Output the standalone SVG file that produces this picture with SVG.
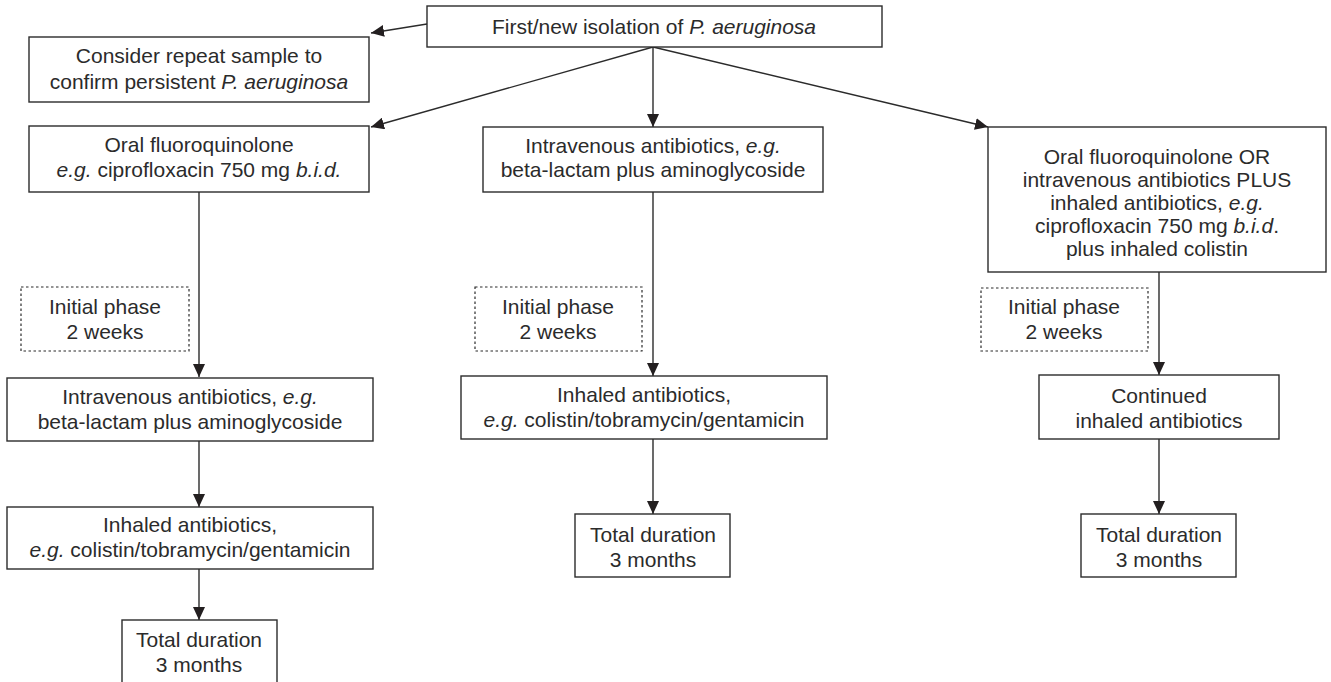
<svg xmlns="http://www.w3.org/2000/svg" width="1331" height="682" viewBox="0 0 1331 682">
<style>
.box{fill:#fff;stroke:#2b2b2b;stroke-width:1.4}
.dash{fill:#fff;stroke:#2b2b2b;stroke-width:1.2;stroke-dasharray:2.5 2.5}
.t{font-family:"Liberation Sans",Arial,sans-serif;font-size:21px;fill:#2b2b2b;text-anchor:middle}
.i{font-style:italic}
.c{fill:none;stroke:#2b2b2b;stroke-width:1.4}
</style>
<defs>
<marker id="ah" markerUnits="userSpaceOnUse" markerWidth="14" markerHeight="12" refX="13" refY="6" orient="auto">
<path d="M0,0 L13,6 L0,12 Z" fill="#231f20"/>
</marker>
</defs>
<rect width="1331" height="682" fill="#fff"/>
<g id="connectors">
<line class="c" x1="427" y1="24" x2="371" y2="33" marker-end="url(#ah)"/>
<line class="c" x1="653" y1="47" x2="371" y2="127" marker-end="url(#ah)"/>
<line class="c" x1="653" y1="47" x2="653" y2="127" marker-end="url(#ah)"/>
<line class="c" x1="653" y1="47" x2="988" y2="127" marker-end="url(#ah)"/>
<line class="c" x1="199" y1="192" x2="199" y2="377" marker-end="url(#ah)"/>
<line class="c" x1="199" y1="441" x2="199" y2="507" marker-end="url(#ah)"/>
<line class="c" x1="199" y1="569" x2="199" y2="620" marker-end="url(#ah)"/>
<line class="c" x1="653" y1="192" x2="653" y2="376" marker-end="url(#ah)"/>
<line class="c" x1="653" y1="439" x2="653" y2="514" marker-end="url(#ah)"/>
<line class="c" x1="1159" y1="272" x2="1159" y2="375" marker-end="url(#ah)"/>
<line class="c" x1="1159" y1="439" x2="1159" y2="514" marker-end="url(#ah)"/>
</g>
<g id="n-top">
<rect class="box" x="427" y="6" width="455" height="41"/>
<text class="t" x="654" y="34">First/new isolation of <tspan class="i">P. aeruginosa</tspan></text>
</g>
<g id="n-consider">
<rect class="box" x="29" y="37" width="340" height="65"/>
<text class="t" x="199" y="63">Consider repeat sample to</text>
<text class="t" x="199" y="89">confirm persistent <tspan class="i">P. aeruginosa</tspan></text>
</g>
<g id="n-oral">
<rect class="box" x="29" y="126" width="340" height="66"/>
<text class="t" x="199" y="152">Oral fluoroquinolone</text>
<text class="t" x="199" y="177"><tspan class="i">e.g.</tspan> ciprofloxacin 750 mg <tspan class="i">b.i.d.</tspan></text>
</g>
<g id="n-iv-mid">
<rect class="box" x="483" y="127" width="340" height="65"/>
<text class="t" x="653" y="153">Intravenous antibiotics, <tspan class="i">e.g.</tspan></text>
<text class="t" x="653" y="177">beta-lactam plus aminoglycoside</text>
</g>
<g id="n-combo">
<rect class="box" x="988" y="127" width="338" height="145"/>
<text class="t" x="1157" y="164">Oral fluoroquinolone OR</text>
<text class="t" x="1157" y="187">intravenous antibiotics PLUS</text>
<text class="t" x="1157" y="210">inhaled antibiotics, <tspan class="i">e.g.</tspan></text>
<text class="t" x="1157" y="233">ciprofloxacin 750 mg <tspan class="i">b.i.d</tspan>.</text>
<text class="t" x="1157" y="256">plus inhaled colistin</text>
</g>
<g id="n-phase-left">
<rect class="dash" x="21" y="287" width="168" height="64"/>
<text class="t" x="105" y="314">Initial phase</text>
<text class="t" x="105" y="339">2 weeks</text>
</g>
<g id="n-phase-mid">
<rect class="dash" x="475" y="287" width="167" height="64"/>
<text class="t" x="558" y="314">Initial phase</text>
<text class="t" x="558" y="339">2 weeks</text>
</g>
<g id="n-phase-right">
<rect class="dash" x="981" y="288" width="167" height="63"/>
<text class="t" x="1064" y="314">Initial phase</text>
<text class="t" x="1064" y="339">2 weeks</text>
</g>
<g id="n-iv-left">
<rect class="box" x="7" y="378" width="366" height="63"/>
<text class="t" x="190" y="404">Intravenous antibiotics, <tspan class="i">e.g.</tspan></text>
<text class="t" x="190" y="429">beta-lactam plus aminoglycoside</text>
</g>
<g id="n-inh-left">
<rect class="box" x="7" y="507" width="366" height="62"/>
<text class="t" x="190" y="532">Inhaled antibiotics,</text>
<text class="t" x="190" y="557"><tspan class="i">e.g.</tspan> colistin/tobramycin/gentamicin</text>
</g>
<g id="n-total-left">
<rect class="box" x="122" y="620" width="155" height="70"/>
<text class="t" x="199" y="647">Total duration</text>
<text class="t" x="199" y="672">3 months</text>
</g>
<g id="n-inh-mid">
<rect class="box" x="461" y="376" width="366" height="63"/>
<text class="t" x="644" y="402">Inhaled antibiotics,</text>
<text class="t" x="644" y="427"><tspan class="i">e.g.</tspan> colistin/tobramycin/gentamicin</text>
</g>
<g id="n-total-mid">
<rect class="box" x="575" y="514" width="155" height="63"/>
<text class="t" x="653" y="542">Total duration</text>
<text class="t" x="653" y="567">3 months</text>
</g>
<g id="n-cont">
<rect class="box" x="1039" y="375" width="240" height="64"/>
<text class="t" x="1159" y="403">Continued</text>
<text class="t" x="1159" y="428">inhaled antibiotics</text>
</g>
<g id="n-total-right">
<rect class="box" x="1081" y="514" width="155" height="63"/>
<text class="t" x="1159" y="542">Total duration</text>
<text class="t" x="1159" y="567">3 months</text>
</g>
</svg>
